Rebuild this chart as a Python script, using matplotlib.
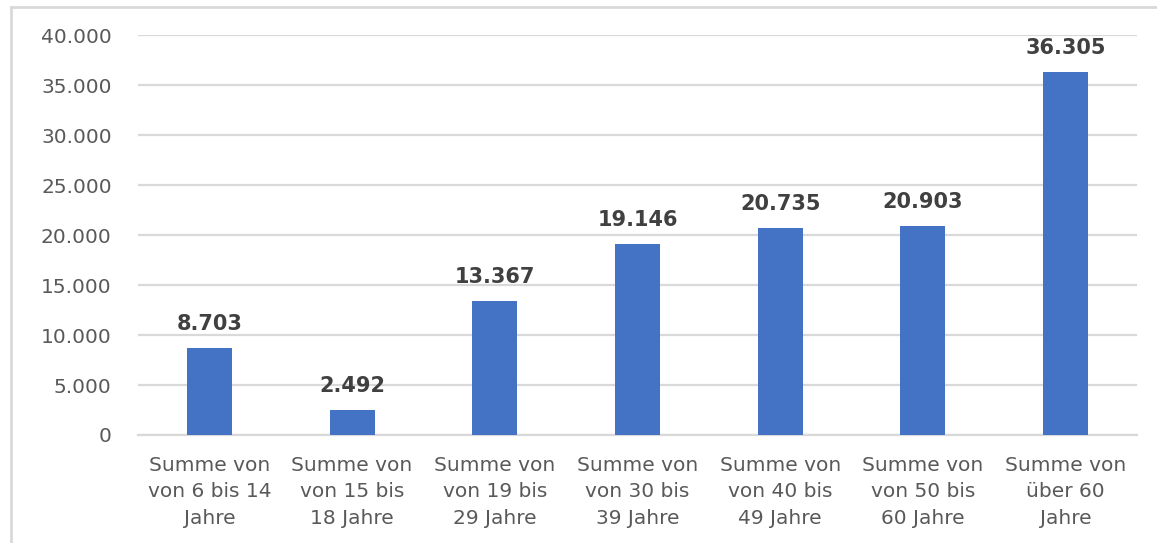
import matplotlib.pyplot as plt
from matplotlib.lines import Line2D
from matplotlib.ticker import FuncFormatter

categories = [
    "Summe von\nvon 6 bis 14\nJahre",
    "Summe von\nvon 15 bis\n18 Jahre",
    "Summe von\nvon 19 bis\n29 Jahre",
    "Summe von\nvon 30 bis\n39 Jahre",
    "Summe von\nvon 40 bis\n49 Jahre",
    "Summe von\nvon 50 bis\n60 Jahre",
    "Summe von\nüber 60\nJahre",
]
values = [8703, 2492, 13367, 19146, 20735, 20903, 36305]
y_ticks = [0, 5000, 10000, 15000, 20000, 25000, 30000, 35000, 40000]


def de_fmt(v, pos=None):
    return f"{int(v):,}".replace(",", ".")


plt.rcParams['font.family'] = ['DejaVu Sans']

fig = plt.figure(figsize=(11.57, 5.43), dpi=100)
ax = fig.add_axes([0.1193, 0.1989, 0.8634, 0.7366])

x = range(len(values))
bars = ax.bar(x, values, width=0.315, color='#4472C4', zorder=3)

ax.set_xlim(-0.5, len(values) - 0.5)
ax.set_ylim(0, 40000)
ax.set_yticks(y_ticks)
ax.yaxis.set_major_formatter(FuncFormatter(de_fmt))
ax.set_xticks(list(x))
ax.set_xticklabels(categories, fontsize=14.5, color='#595959', linespacing=1.5)

ax.grid(axis='y', color='#D9D9D9', linewidth=1.6, zorder=0)
ax.tick_params(axis='y', length=0, pad=19, labelsize=14.5, labelcolor='#595959')
ax.tick_params(axis='x', length=0, pad=15)
for s in ['top', 'right', 'left']:
    ax.spines[s].set_visible(False)
ax.spines['bottom'].set_color('#D9D9D9')
ax.spines['bottom'].set_linewidth(1.6)

for b, v in zip(bars, values):
    ax.annotate(de_fmt(v), (b.get_x() + b.get_width() / 2, v),
                xytext=(0, 10), textcoords='offset points',
                ha='center', va='bottom', fontsize=15, fontweight='bold',
                color='#404040')

# outer chart frame (left and top edge visible)
fx = 10.5 / 1157
fy = 1 - 6.5 / 543
fig.add_artist(Line2D([fx, fx], [0, fy], transform=fig.transFigure,
                      color='#D9D9D9', linewidth=2))
fig.add_artist(Line2D([fx, 1], [fy, fy], transform=fig.transFigure,
                      color='#D9D9D9', linewidth=2))

fig.savefig('out.png', dpi=100)
